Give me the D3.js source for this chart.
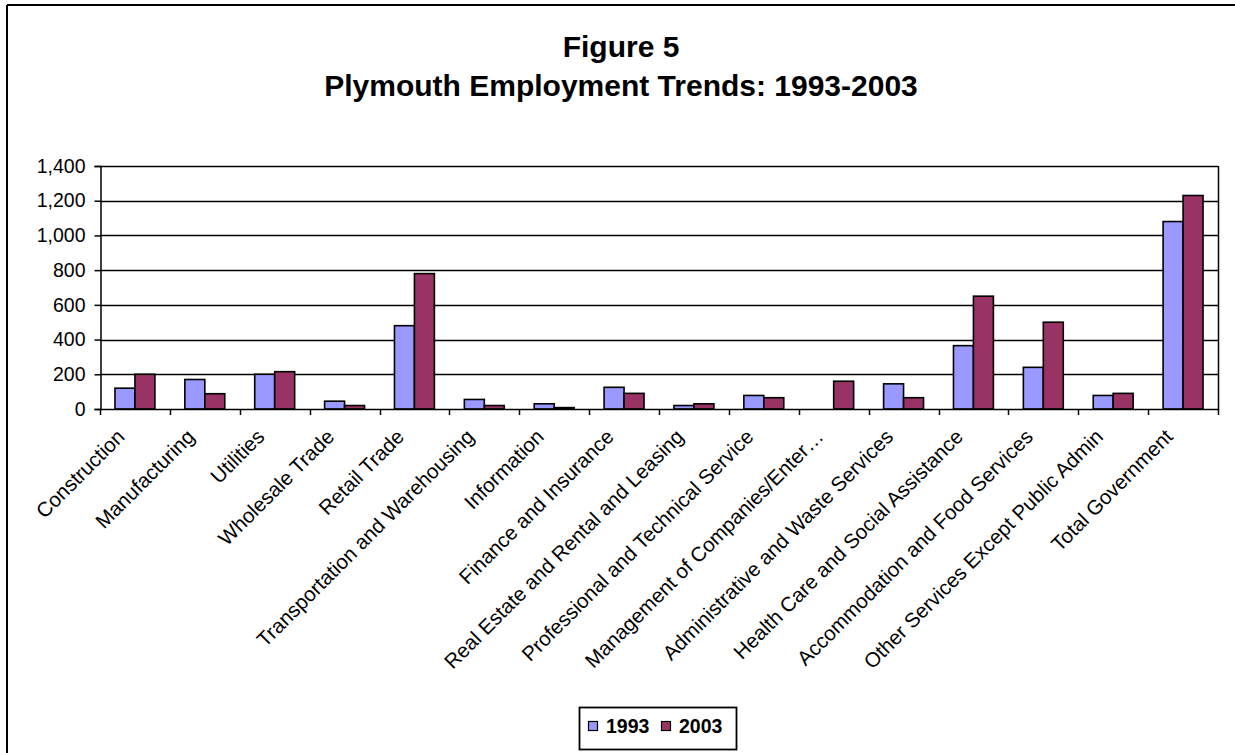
<!DOCTYPE html>
<html>
<head>
<meta charset="utf-8">
<script src="https://cdn.jsdelivr.net/npm/d3@7/dist/d3.min.js"></script>
<style>
  html, body { margin: 0; padding: 0; background: #fff; }
  svg { display: block; }
  text { font-family: "Liberation Sans", Arial, sans-serif; fill: #000; }
</style>
</head>
<body>
<svg id="chart" width="1235" height="753"></svg>
<script>
// Employment by industry, Plymouth
const categories = [
  "Construction", "Manufacturing", "Utilities", "Wholesale Trade", "Retail Trade",
  "Transportation and Warehousing", "Information", "Finance and Insurance",
  "Real Estate and Rental and Leasing", "Professional and Technical Service",
  "Management of Companies/Enter\u2026", "Administrative and Waste Services",
  "Health Care and Social Assistance", "Accommodation and Food Services",
  "Other Services Except Public Admin", "Total Government"
];
const seriesNames = ["1993", "2003"];
const values1993 = [120, 170, 200, 45, 480, 55, 30, 125, 20, 78, 0, 145, 365, 240, 78, 1080];
const values2003 = [200, 88, 215, 20, 780, 20, 8, 90, 30, 65, 160, 65, 650, 500, 90, 1230];
const yTicks = [0, 200, 400, 600, 800, 1000, 1200, 1400];
const titleLines = ["Figure 5", "Plymouth Employment Trends: 1993-2003"];
const seriesColors = ["#9999FF", "#993366"];

const svg = d3.select("#chart");

// outer chart frame (top and left edges)
svg.append("line").attr("x1", 7).attr("y1", 5).attr("x2", 1235).attr("y2", 5)
  .attr("stroke", "#000").attr("stroke-width", 2);
svg.append("line").attr("x1", 7).attr("y1", 5).attr("x2", 7).attr("y2", 753)
  .attr("stroke", "#000").attr("stroke-width", 2);

// title
svg.selectAll("text.title").data(titleLines).join("text")
  .attr("class", "title")
  .attr("x", 621)
  .attr("y", (d, i) => 57 + i * 39)
  .attr("text-anchor", "middle")
  .style("font-weight", "bold")
  .style("font-size", "30px")
  .text(d => d);

const plot = { left: 100, right: 1218, top: 166, bottom: 409 };

const x = d3.scaleBand().domain(categories).range([plot.left, plot.right]);
const x1 = d3.scaleBand().domain(seriesNames).range([0, x.bandwidth()])
  .paddingInner(0).paddingOuter(0.75);
const y = d3.scaleLinear().domain([0, 1400]).range([plot.bottom, plot.top]);

// horizontal gridlines
svg.append("g").selectAll("line").data(yTicks.filter(v => v > 0)).join("line")
  .attr("x1", plot.left).attr("x2", plot.right)
  .attr("y1", d => Math.round(y(d)) + 0.5).attr("y2", d => Math.round(y(d)) + 0.5)
  .attr("stroke", "#000").attr("stroke-width", 1.5);

// right edge of plot area
svg.append("line")
  .attr("x1", plot.right + 0.5).attr("x2", plot.right + 0.5)
  .attr("y1", plot.top).attr("y2", plot.bottom)
  .attr("stroke", "#000").attr("stroke-width", 1.5);

// bars
const rows = categories.map((c, i) => ({ cat: c, vals: [values1993[i], values2003[i]] }));
const groups = svg.append("g").selectAll("g").data(rows).join("g")
  .attr("transform", d => `translate(${x(d.cat)},0)`);
groups.selectAll("rect")
  .data(d => d.vals.map((v, j) => ({ key: seriesNames[j], v, j })))
  .join("rect")
  .attr("x", d => x1(d.key))
  .attr("width", x1.bandwidth())
  .attr("y", d => y(d.v))
  .attr("height", d => y(0) - y(d.v))
  .attr("fill", d => seriesColors[d.j])
  .attr("stroke", "#000")
  .attr("stroke-width", 1.6);

// y axis
const yAxis = d3.axisLeft(y).tickValues(yTicks).tickFormat(d3.format(",")).tickSizeOuter(0).tickSize(6).tickPadding(9);
const gy = svg.append("g").attr("transform", `translate(${plot.left + 0.5},0)`).call(yAxis);
gy.selectAll("path, line").attr("stroke", "#000").attr("stroke-width", 1.5);
gy.selectAll("text").style("font-size", "19.5px").attr("fill", "#000").style("font-family", "'Liberation Sans', Arial, sans-serif");

// x axis line with tick marks on band boundaries
const gx = svg.append("g");
gx.append("line").attr("x1", plot.left).attr("x2", plot.right + 1)
  .attr("y1", plot.bottom + 0.5).attr("y2", plot.bottom + 0.5)
  .attr("stroke", "#000").attr("stroke-width", 1.5);
const boundaries = categories.map(c => x(c)).concat([plot.right]);
gx.selectAll("line.tick").data(boundaries).join("line")
  .attr("class", "tick")
  .attr("x1", d => Math.round(d) + 0.5).attr("x2", d => Math.round(d) + 0.5)
  .attr("y1", plot.bottom).attr("y2", plot.bottom + 6)
  .attr("stroke", "#000").attr("stroke-width", 1.5);

// rotated category labels
gx.selectAll("text").data(categories).join("text")
  .attr("transform", d => `translate(${x(d) + x.bandwidth() / 2 - 9},438) rotate(-45)`)
  .attr("text-anchor", "end")
  .style("font-size", "20.5px")
  .text(d => d);

// legend
const legend = svg.append("g");
legend.append("rect").attr("x", 579.5).attr("y", 707.5).attr("width", 157).attr("height", 42)
  .attr("fill", "#fff").attr("stroke", "#000").attr("stroke-width", 1.8);
const legendX = [588, 661];
const items = legend.selectAll("g").data(seriesNames).join("g")
  .attr("transform", (d, i) => `translate(${legendX[i]},0)`);
items.append("rect").attr("x", 0.5).attr("y", 721.5).attr("width", 9).attr("height", 9)
  .attr("fill", (d, i) => seriesColors[i]).attr("stroke", "#000").attr("stroke-width", 1.2);
items.append("text").attr("x", 18).attr("y", 733)
  .style("font-weight", "bold").style("font-size", "19.5px")
  .text(d => d);
</script>
</body>
</html>
